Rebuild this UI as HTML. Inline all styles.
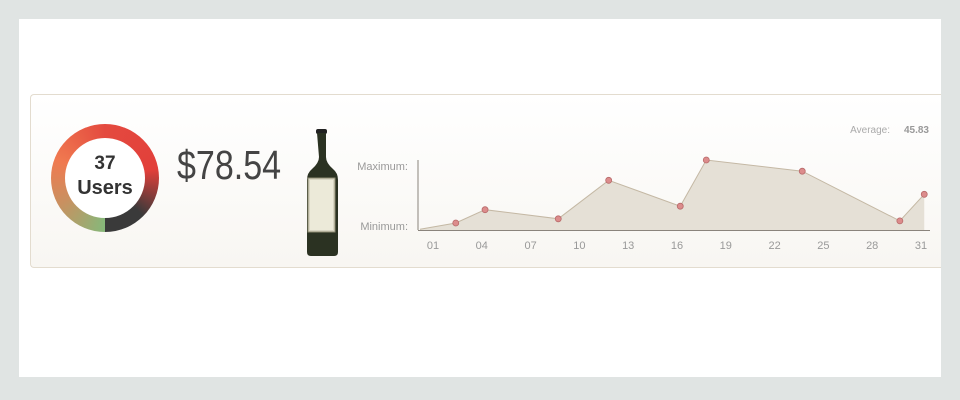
<!DOCTYPE html>
<html><head><meta charset="utf-8"><style>
body{margin:0;width:960px;height:400px;background:#e0e4e3;font-family:"Liberation Sans",sans-serif;overflow:hidden}
#card{position:absolute;left:19px;top:19px;width:922px;height:358px;background:#fff;overflow:hidden}
#panel{position:absolute;left:11px;top:75px;width:920px;height:174px;border:1px solid #e3dccf;border-right:none;border-radius:4px 0 0 4px;background:linear-gradient(#fff,#f8f6f2);box-sizing:border-box}
#donut{position:absolute;left:51px;top:124px;width:108px;height:108px;border-radius:50%;background:conic-gradient(#e44a3f 0deg,#e23f3a 80deg,#3a3a3a 135deg,#3a3a3a 180deg,#86b87a 180deg,#c99060 240deg,#f07a50 290deg,#e44a3f 360deg)}
#hole{position:absolute;left:14px;top:14px;width:80px;height:80px;border-radius:50%;background:#fff;text-align:center;font-weight:bold;color:#333}
#price{position:absolute;left:177px;top:143px;font-size:41px;color:#444;transform:scaleX(0.83);transform-origin:left top;line-height:44px}
</style></head><body>
<div id="card"><div id="panel"></div></div>
<div id="donut"><div id="hole"><div style="font-size:19px;margin-top:15px">37</div><div style="font-size:20px;margin-top:2px">Users</div></div></div>
<div id="price">$78.54</div>
<svg style="position:absolute;left:303px;top:128px" width="38" height="132">
<rect x="13" y="1" width="11" height="5" rx="2" fill="#222"/>
<path d="M14 5 h9 v24 q0 6 7 12 q5 4 5 11 v72 q0 4 -4 4 h-23 q-4 0 -4 -4 v-72 q0 -7 5 -11 q7 -6 7 -12z" fill="#2b3222"/>
<rect x="5" y="50" width="27" height="54" fill="#d8d5c2" stroke="#8b8970"/>
<rect x="7" y="52" width="23" height="50" fill="#ecead9"/>
</svg>
<svg id="chart" style="position:absolute;left:0;top:0" width="960" height="400"></svg>
<script>
const days=[0.2,2.4,4.2,8.7,11.8,16.2,17.8,23.7,29.7,31.2];
const values=[1,10,29,16,71,34,100,84,13,51];
const tickLabels=["01","04","07","10","13","16","19","22","25","28","31"];
const tickDays=[1,4,7,10,13,16,19,22,25,28,31];
const average="45.83";
const NS="http://www.w3.org/2000/svg";
const svg=document.getElementById('chart');
const x=d=>433+(d-1)*(921-433)/30;
const y=v=>230-v*0.7;
function mk(t,a){const e=document.createElementNS(NS,t);for(const k in a)e.setAttribute(k,a[k]);svg.appendChild(e);return e;}
let pts=days.map((d,i)=>x(d)+','+y(values[i]));
let area=mk('polygon',{points:x(days[0])+',230 '+pts.join(' ')+' '+x(days[days.length-1])+',230',fill:'#e5e0d6'});


let line=mk('polyline',{points:pts.join(' '),fill:'none',stroke:'#c4b8a4','stroke-width':1});


let ax=mk('line',{x1:418,y1:160,x2:418,y2:230,stroke:'#8a847c'});


let bx=mk('line',{x1:418,y1:230.5,x2:930,y2:230.5,stroke:'#8a847c'});


days.forEach((d,i)=>{if(i===0)return;let c=mk('circle',{cx:x(d),cy:y(values[i]),r:3,fill:'#dc8c8c',stroke:'#b86a6a','stroke-width':0.8});

});
tickLabels.forEach((t,i)=>{let e=mk('text',{x:x(tickDays[i]),y:249,'text-anchor':'middle','font-size':11,fill:'#999','font-family':'Liberation Sans'});e.textContent=t;

});
let mx=mk('text',{x:408,y:170,'text-anchor':'end','font-size':11,fill:'#999','font-family':'Liberation Sans'});mx.textContent='Maximum:';


let mn=mk('text',{x:408,y:230,'text-anchor':'end','font-size':11,fill:'#999','font-family':'Liberation Sans'});mn.textContent='Minimum:';


let al=mk('text',{x:890,y:133,'text-anchor':'end','font-size':10,fill:'#aaa','font-family':'Liberation Sans'});al.textContent='Average:';


let av=mk('text',{x:929,y:133,'text-anchor':'end','font-size':10,'font-weight':'bold',fill:'#999','font-family':'Liberation Sans'});av.textContent=average;


</script>
</body></html>
